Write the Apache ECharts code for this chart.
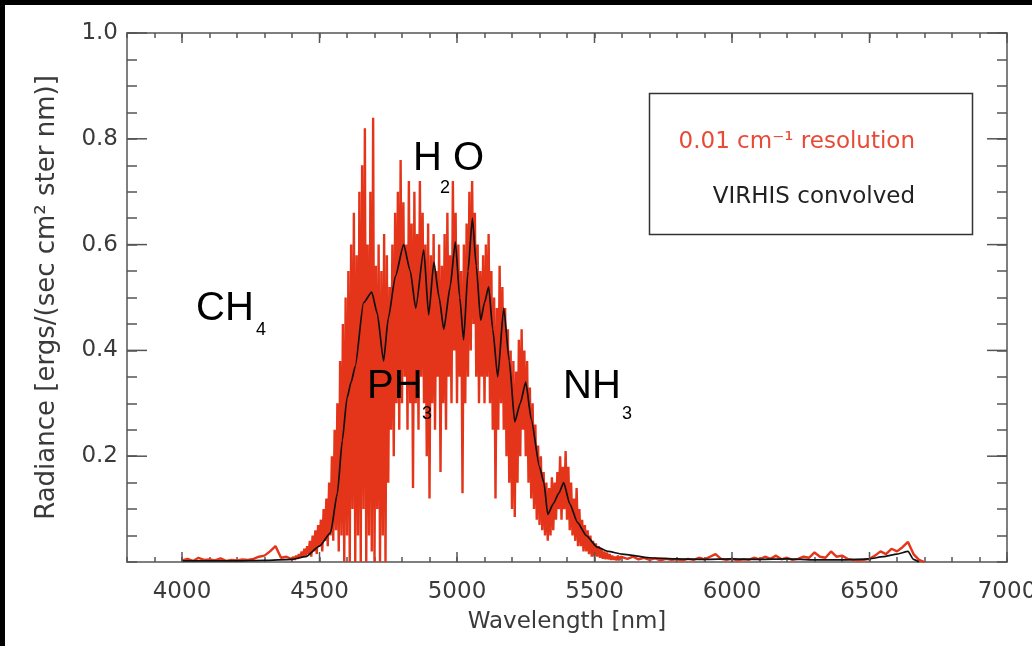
<!DOCTYPE html>
<html><head><meta charset="utf-8">
<script src="https://cdn.jsdelivr.net/npm/echarts@6/dist/echarts.min.js"></script>
<style>
html,body{margin:0;padding:0;background:#000;width:1032px;height:646px;overflow:hidden}
#c{position:absolute;left:5px;top:5px;width:1027px;height:641px;background:#fff}
</style>
</head><body><div id="c"></div>
<script>
// ---------- data ----------
// VIRHIS convolved spectrum (black)
const blackWavelength = [4000,4100,4200,4300,4400,4450,4500,4540,4565,4583,4600,4615,4630,4660,4690,4710,4733,4750,4776,4806,4830,4850,4879,4897,4916,4935,4952,4975,4994,5010,5024,5040,5056,5070,5086,5100,5115,5130,5148,5170,5190,5210,5230,5250,5270,5300,5316,5330,5350,5370,5388,5410,5438,5470,5510,5550,5600,5700,5800,5900,6000,6100,6200,6300,6400,6500,6550,6600,6640,6660,6680];
const blackRadiance = [0.002,0.002,0.002,0.003,0.005,0.01,0.03,0.055,0.13,0.23,0.31,0.34,0.37,0.49,0.51,0.47,0.38,0.46,0.54,0.60,0.55,0.48,0.59,0.467,0.567,0.50,0.44,0.52,0.605,0.50,0.42,0.55,0.65,0.56,0.457,0.49,0.52,0.44,0.35,0.48,0.38,0.265,0.30,0.34,0.27,0.18,0.15,0.09,0.11,0.13,0.15,0.11,0.075,0.05,0.028,0.02,0.015,0.008,0.006,0.005,0.006,0.005,0.006,0.004,0.004,0.006,0.01,0.015,0.02,0.005,0.0];

// 0.01 cm-1 resolution spectrum (red), three sampled segments
const redLowStart = 4000, redLowStep = 20;
const redLowRadiance = [0.003,0.006,0.002,0.008,0.004,0.005,0.003,0.007,0.002,0.004,0.003,0.005,0.004,0.006,0.01,0.012,0.02,0.03,0.008,0.01];
const redMidStart = 4400, redMidStep = 5;
const redMidRadiance = [
  0.005,0.01,0.004,0.012,0.006,0.015,0.008,0.02,0.01,0.025,
  0.012,0.03,0.015,0.04,0.01,0.05,0.02,0.06,0.015,0.07,
  0.03,0.08,0.02,0.1,0.04,0.12,0.03,0.15,0.05,0.2,
  0.04,0.25,0.06,0.3,0.02,0.38,0.05,0.45,0.0,0.5,
  0.05,0.55,0.0,0.6,0.1,0.66,0.0,0.58,0.05,0.7,
  0.0,0.75,0.1,0.82,0.0,0.6,0.05,0.7,0.02,0.84,
  0.0,0.56,0.1,0.6,0.0,0.55,0.05,0.62,0.0,0.58,
  0.15,0.52,0.25,0.6,0.2,0.66,0.3,0.7,0.25,0.76,
  0.3,0.68,0.35,0.6,0.25,0.72,0.3,0.64,0.14,0.7,
  0.3,0.62,0.25,0.72,0.35,0.66,0.3,0.6,0.2,0.64,
  0.12,0.58,0.3,0.62,0.25,0.55,0.35,0.6,0.17,0.56,
  0.3,0.62,0.25,0.66,0.35,0.58,0.3,0.72,0.4,0.66,
  0.3,0.6,0.35,0.55,0.13,0.6,0.3,0.64,0.35,0.7,
  0.4,0.72,0.45,0.66,0.35,0.6,0.3,0.55,0.35,0.58,
  0.3,0.6,0.35,0.62,0.3,0.55,0.25,0.5,0.12,0.48,
  0.25,0.56,0.3,0.52,0.25,0.48,0.2,0.44,0.15,0.4,
  0.1,0.38,0.085,0.36,0.15,0.42,0.2,0.44,0.25,0.4,
  0.2,0.38,0.15,0.33,0.12,0.3,0.1,0.26,0.08,0.22,
  0.07,0.2,0.06,0.17,0.05,0.15,0.04,0.14,0.05,0.16,
  0.06,0.15,0.08,0.17,0.1,0.2,0.08,0.18,0.1,0.21,
  0.08,0.18,0.06,0.15,0.05,0.12,0.04,0.14,0.03,0.1,
  0.03,0.08,0.02,0.07,0.02,0.06,0.015,0.05,0.01,0.04,
  0.01,0.035,0.01,0.03,0.008,0.025,0.006,0.02,0.005,0.018,
  0.005,0.015,0.004,0.012,0.004,0.01,0.003,0.012,0.003,0.01
];
const redHighStart = 5600, redHighStep = 20;
const redHighRadiance = [0.012,0.006,0.01,0.005,0.008,0.004,0.007,0.003,0.006,0.004,
  0.005,0.003,0.006,0.004,0.008,0.005,0.01,0.015,0.006,0.004,
  0.006,0.003,0.005,0.004,0.008,0.005,0.01,0.006,0.012,0.005,
  0.008,0.004,0.006,0.01,0.008,0.018,0.01,0.008,0.02,0.01,
  0.012,0.006,0.004,0.003,0.004,0.006,0.012,0.02,0.015,0.025,
  0.02,0.028,0.038,0.015,0.004,0.0];

const xMajorTicks = [4000,4500,5000,5500,6000,6500,7000];
const yMajorTicks = [0.2,0.4,0.6,0.8,1.0];

// ---------- build ----------
function seg(start, step, vals){ return vals.map((v,i)=>[start+i*step, v]); }
const redData = seg(redLowStart, redLowStep, redLowRadiance)
  .concat(seg(redMidStart, redMidStep, redMidRadiance))
  .concat(seg(redHighStart, redHighStep, redHighRadiance));
const blackData = blackWavelength.map((w,i)=>[w, blackRadiance[i]]);

const AX = '#555';
const FONT = 'DejaVu Sans';
const LBL = '#3a3a3a';
const chart = echarts.init(document.getElementById('c'), null, {renderer:'canvas'});

function xTick(params, api){
  const v = api.value(0);
  const b = api.coord([v, 0]);
  const t = api.coord([v, 1]);
  return {type:'group', children:[
    {type:'line', shape:{x1:b[0],y1:b[1],x2:b[0],y2:b[1]-10}, style:{stroke:AX,lineWidth:1.5}},
    {type:'line', shape:{x1:t[0],y1:t[1],x2:t[0],y2:t[1]+10}, style:{stroke:AX,lineWidth:1.5}}
  ]};
}
function yTick(params, api){
  const v = api.value(1);
  const l = api.coord([3800, v]);
  const r = api.coord([7000, v]);
  return {type:'group', children:[
    {type:'line', shape:{x1:l[0],y1:l[1],x2:l[0]+20,y2:l[1]}, style:{stroke:AX,lineWidth:1.5}},
    {type:'line', shape:{x1:r[0],y1:r[1],x2:r[0]-20,y2:r[1]}, style:{stroke:AX,lineWidth:1.5}}
  ]};
}

const axisCommonX = {
  type:'value', min:3800, max:7000, interval:100,
  axisLine:{show:true, onZero:false, lineStyle:{color:AX, width:1.5}},
  axisTick:{show:true, inside:true, length:5, lineStyle:{color:AX, width:1.5}},
  splitLine:{show:false}
};
const axisCommonY = {
  type:'value', min:0, max:1, interval:0.05,
  axisLine:{show:true, onZero:false, lineStyle:{color:AX, width:1.5}},
  axisTick:{show:true, inside:true, length:10, lineStyle:{color:AX, width:1.5}},
  splitLine:{show:false}
};

chart.setOption({
  animation:false,
  backgroundColor:'#fff',
  grid:{left:122, right:25, top:28, bottom:84, containLabel:false, outerBoundsMode:'none'},
  xAxis:[
    Object.assign({}, axisCommonX, {
      position:'bottom',
      axisLabel:{show:true, margin:19, fontSize:23, fontFamily:FONT, color:LBL,
        formatter:v => (Math.round(v) % 500 === 0 ? String(Math.round(v)) : '')},
      name:'Wavelength [nm]', nameLocation:'middle', nameGap:49,
      nameTextStyle:{fontSize:23, fontFamily:FONT, color:LBL}
    }),
    Object.assign({}, axisCommonX, {position:'top', axisLabel:{show:false}})
  ],
  yAxis:[
    Object.assign({}, axisCommonY, {
      position:'left',
      axisLabel:{show:true, margin:9, fontSize:23, fontFamily:FONT, color:LBL,
        formatter:v => { const k = Math.round(v*100); return (k>0 && k%20===0) ? (k/100).toFixed(1) : ''; }},
      name:'Radiance [ergs/(sec cm² ster nm)]', nameLocation:'middle', nameRotate:90, nameGap:67,
      nameTextStyle:{fontSize:26, fontFamily:FONT, color:LBL}
    }),
    Object.assign({}, axisCommonY, {position:'right', axisLabel:{show:false}})
  ],
  series:[
    {name:'0.01 cm⁻¹ resolution', type:'line', data:redData, showSymbol:false, symbol:'none',
     lineStyle:{color:'#e4351a', width:2.4, opacity:1}, z:2},
    {name:'VIRHIS convolved', type:'line', data:blackData, showSymbol:false, symbol:'none', smooth:0.2, smoothMonotone:'x',
     lineStyle:{color:'#111', width:1.7}, z:3},
    {type:'custom', renderItem:xTick, data:xMajorTicks.map(v=>[v,0]), encode:{x:0,y:1}, clip:false, silent:true, z:5},
    {type:'custom', renderItem:yTick, data:yMajorTicks.map(v=>[3800,v]), encode:{x:0,y:1}, clip:false, silent:true, z:5}
  ],
  graphic:[
    {type:'rect', left:642, top:86, shape:{width:323, height:141}, style:{fill:'none', stroke:'#333', lineWidth:1.5}, z:10},
    {type:'text', x:910, y:137, style:{text:'0.01 cm⁻¹ resolution', align:'right', verticalAlign:'middle', fontSize:23, fontFamily:FONT, fill:'#e84a36'}, z:10},
    {type:'text', x:910, y:192, style:{text:'VIRHIS convolved', align:'right', verticalAlign:'middle', fontSize:23, fontFamily:FONT, fill:'#222'}, z:10},
    // molecule annotations
    {type:'text', x:191, y:304, style:{text:'CH', verticalAlign:'middle', fontSize:40, fontFamily:'Liberation Sans', fill:'#000'}, z:10},
    {type:'text', x:251, y:325, style:{text:'4', verticalAlign:'middle', fontSize:18, fontFamily:'Liberation Sans', fill:'#000'}, z:10},
    {type:'text', x:408, y:154, style:{text:'H', verticalAlign:'middle', fontSize:40, fontFamily:'Liberation Sans', fill:'#000'}, z:10},
    {type:'text', x:435, y:183, style:{text:'2', verticalAlign:'middle', fontSize:18, fontFamily:'Liberation Sans', fill:'#000'}, z:10},
    {type:'text', x:448, y:154, style:{text:'O', verticalAlign:'middle', fontSize:40, fontFamily:'Liberation Sans', fill:'#000'}, z:10},
    {type:'text', x:362, y:382, style:{text:'PH', verticalAlign:'middle', fontSize:40, fontFamily:'Liberation Sans', fill:'#000'}, z:10},
    {type:'text', x:417, y:409, style:{text:'3', verticalAlign:'middle', fontSize:18, fontFamily:'Liberation Sans', fill:'#000'}, z:10},
    {type:'text', x:558, y:382, style:{text:'NH', verticalAlign:'middle', fontSize:40, fontFamily:'Liberation Sans', fill:'#000'}, z:10},
    {type:'text', x:617, y:409, style:{text:'3', verticalAlign:'middle', fontSize:18, fontFamily:'Liberation Sans', fill:'#000'}, z:10}
  ]
});
</script></body></html>
